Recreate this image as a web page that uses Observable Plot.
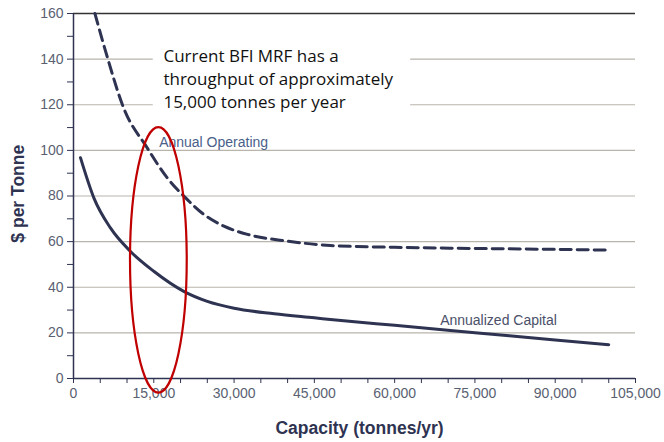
<!DOCTYPE html>
<html><head><meta charset="utf-8">
<script src="https://cdn.jsdelivr.net/npm/d3@7"></script>
<script src="https://cdn.jsdelivr.net/npm/@observablehq/plot@0.6"></script>
<style>body{margin:0;background:#fff;}</style>
</head><body><div id="chart"></div>
<script>
// Annual Operating cost ($/tonne) vs capacity (tonnes/yr)
const opCapacity = [4000, 6300, 9300, 13800, 17500, 20900, 24300, 28100, 32500, 40000, 48000, 60000, 75000, 90000, 100000];
const opCost     = [160, 141, 119, 101, 88, 79.3, 72, 66.8, 63.2, 60.2, 58.3, 57.5, 57.0, 56.6, 56.3];
// Annualized Capital cost
const capCapacity = [1300, 3800, 6900, 10600, 15000, 20600, 25000, 30000, 37500, 45000, 50000, 60000, 75000, 90000, 100000];
const capCost     = [96.8, 79.2, 66, 55.8, 47, 38.2, 33.8, 30.8, 28.4, 26.6, 25.4, 23.3, 20.1, 16.9, 14.8];

const xTicks = d3.range(0, 105001, 5000);
const xLabelTicks = [0, 15000, 30000, 45000, 60000, 75000, 90000, 105000];
const yTicks = d3.range(0, 161, 10);
const yLabelTicks = [0, 20, 40, 60, 80, 100, 120, 140, 160];
const yGrid = [20, 40, 60, 80, 100, 120, 140];

const seriesLabels = [
  {name: "Annual Operating", x: 16000, y: 103.5, color: "#4a5f8a"},
  {name: "Annualized Capital", x: 68500, y: 25.5, color: "#4a5068"}
];
const noteLines = ["Current BFI MRF has a", "throughput of approximately", "15,000 tonnes per year"];
const noteBox = [{x1: 14900, x2: 63000, y1: 111.5, y2: 152}];
const noteAnchor = {x: 16800, y: 146};
const ellipse = {cx: 15950, cy: 51.8, rx: 5300, ry: 58.2};
const yLabelAt = 81;

const opData = opCapacity.map((x, i) => ({x, y: opCost[i]}));
const capData = capCapacity.map((x, i) => ({x, y: capCost[i]}));

const navy = "#2e3352";
const tickText = "#5a5f72";

const chart = Plot.plot({
  width: 664, height: 442,
  marginLeft: 73, marginRight: 29, marginTop: 13, marginBottom: 64,
  style: {fontFamily: "'Liberation Sans', Arial, sans-serif", background: "#fff"},
  x: {domain: [0, 105000]},
  y: {domain: [0, 160]},
  marks: [
    Plot.gridY(yGrid, {stroke: "#b9b5ad", strokeOpacity: 1, strokeWidth: 1.2}),
    Plot.rect(noteBox, {x1: "x1", x2: "x2", y1: "y1", y2: "y2", fill: "#fff"}),
    Plot.ruleY([160], {stroke: "#333", strokeWidth: 1.4}),
    Plot.axisX({ticks: xTicks, tickFormat: d => xLabelTicks.includes(d) ? d3.format(",")(d) : "",
      tickSize: 5, tickPadding: 5, stroke: navy, fill: tickText, fontSize: 14, label: null}),
    Plot.axisY({ticks: yTicks, tickFormat: d => yLabelTicks.includes(d) ? String(d) : "",
      tickSize: 6, tickPadding: 4, stroke: navy, fill: tickText, fontSize: 14, label: null}),
    Plot.ruleX([0], {stroke: navy, strokeWidth: 1.5}),
    Plot.ruleY([0], {stroke: navy, strokeWidth: 1.5}),
    Plot.line(opData, {x: "x", y: "y", stroke: navy, strokeWidth: 3, strokeDasharray: "11,6", curve: "monotone-x"}),
    Plot.line(capData, {x: "x", y: "y", stroke: navy, strokeWidth: 3, curve: "monotone-x"}),
    Plot.text(seriesLabels, {x: "x", y: "y", text: "name", fill: "color", textAnchor: "start", fontSize: 14}),
    Plot.text([noteLines.join("\n")], {x: () => noteAnchor.x, y: () => noteAnchor.y,
      textAnchor: "start", lineAnchor: "top", lineHeight: 1.35, fontSize: 17, fill: "#111",
      fontFamily: "'Open Sans', sans-serif"}),
    (index, scales) => {
      const {x, y} = scales;
      const e = document.createElementNS("http://www.w3.org/2000/svg", "ellipse");
      e.setAttribute("cx", x(ellipse.cx));
      e.setAttribute("cy", y(ellipse.cy));
      e.setAttribute("rx", x(ellipse.cx + ellipse.rx) - x(ellipse.cx));
      e.setAttribute("ry", y(ellipse.cy) - y(ellipse.cy + ellipse.ry));
      e.setAttribute("fill", "none");
      e.setAttribute("stroke", "#c00000");
      e.setAttribute("stroke-width", 2.2);
      return e;
    },
    Plot.text(["Capacity (tonnes/yr)"], {frameAnchor: "bottom", textAnchor: "middle", dx: 5, dy: 55, fontSize: 17.5, fontWeight: "bold", fill: navy}),
    Plot.text(["$ per Tonne"], {frameAnchor: "left", textAnchor: "middle", y: () => yLabelAt, dx: -55, rotate: -90, fontSize: 17.5, fontWeight: "bold", fill: navy})
  ]
});
document.getElementById("chart").appendChild(chart);
</script>
</body></html>
